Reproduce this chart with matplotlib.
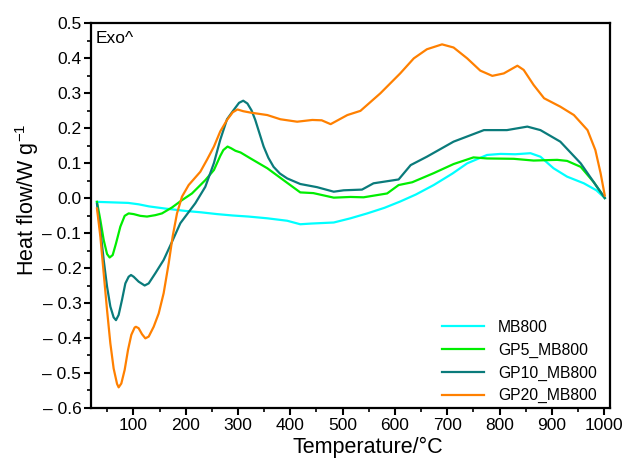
import matplotlib
matplotlib.use("Agg")
import matplotlib.pyplot as plt
from matplotlib.ticker import MultipleLocator, FuncFormatter

plt.rcParams['font.family'] = ['Liberation Sans', 'DejaVu Sans']
plt.rcParams['mathtext.fontset'] = 'custom'
plt.rcParams['mathtext.rm'] = 'Liberation Sans'
plt.rcParams['mathtext.it'] = 'Liberation Sans:italic'

# DSC curves (temperature in °C, heat flow in W/g)
t_mb800 = [30, 50, 70, 90, 110, 130, 160, 200, 230, 260, 290, 320, 356, 394, 419,
           440, 483, 515, 547, 580, 610, 640, 674, 710, 738, 776, 802, 830, 859,
           878, 903, 929, 961, 985, 1001]
hf_mb800 = [-0.011, -0.012, -0.013, -0.014, -0.018, -0.024, -0.03, -0.037, -0.041,
            -0.046, -0.05, -0.053, -0.058, -0.065, -0.075, -0.073, -0.07, -0.058,
            -0.044, -0.028, -0.01, 0.01, 0.037, 0.07, 0.099, 0.123, 0.126, 0.125,
            0.128, 0.118, 0.085, 0.061, 0.042, 0.022, 0.0]

t_gp5 = [30.5, 36.9, 43.3, 49.7, 54.7, 60.5, 66.8, 75.1, 83.4, 91, 100.6, 113.3,
         126.1, 142, 154.7, 173.9, 193, 212, 237.5, 254, 260, 266, 272, 280, 287,
         295, 305, 324, 356, 387, 419, 444, 483, 515, 540, 585, 607, 633, 674, 712,
         750, 776, 827, 865, 910, 929, 955, 980, 1001]
hf_gp5 = [-0.011, -0.063, -0.12, -0.16, -0.17, -0.163, -0.13, -0.082, -0.051,
          -0.044, -0.046, -0.051, -0.053, -0.049, -0.044, -0.027, -0.006, 0.013,
          0.051, 0.08, 0.1, 0.12, 0.137, 0.147, 0.142, 0.135, 0.13, 0.113, 0.085,
          0.051, 0.016, 0.014, 0.001, 0.003, 0.002, 0.013, 0.037, 0.045, 0.071,
          0.097, 0.116, 0.113, 0.112, 0.107, 0.109, 0.106, 0.089, 0.045, 0.0]

t_gp10 = [30.5, 36.9, 43.3, 49.7, 56, 62.3, 66.8, 71.9, 78.3, 84.7, 91, 95.5, 100.6,
          110.1, 121.6, 129.3, 142, 157.9, 173.9, 189.8, 199.3, 218.4, 237.5, 254,
          266, 279, 291, 302, 310, 318, 326, 333, 341, 349, 358, 368, 380, 394, 419,
          451, 483, 502, 537, 559, 607, 630, 661, 712, 770, 814, 853, 878, 916, 955,
          1001]
hf_gp10 = [-0.017, -0.091, -0.177, -0.253, -0.31, -0.341, -0.349, -0.334, -0.291,
           -0.244, -0.225, -0.22, -0.225, -0.239, -0.25, -0.244, -0.215, -0.177,
           -0.125, -0.072, -0.053, -0.015, 0.032, 0.1, 0.166, 0.225, 0.25, 0.272,
           0.278, 0.27, 0.25, 0.223, 0.185, 0.147, 0.115, 0.089, 0.07, 0.056, 0.04,
           0.031, 0.018, 0.022, 0.024, 0.042, 0.053, 0.094, 0.118, 0.161, 0.194,
           0.194, 0.204, 0.194, 0.161, 0.099, 0.0]

t_gp20 = [30.5, 36.9, 43.3, 49.7, 56, 62.3, 68.8, 71.9, 77, 83.4, 89.8, 96.1, 102.5,
          105, 110.1, 116.5, 122.9, 129.3, 138.8, 148.4, 157.9, 167.5, 175.1, 183.4,
          193, 205.7, 228, 241, 254, 266, 279, 290, 299, 310, 324, 356, 381, 413,
          442, 460, 477, 509, 534, 572, 610, 636, 661, 690, 712, 738, 763, 786, 808,
          834, 846, 865, 885, 916, 942, 968, 983, 993, 1001]
hf_gp20 = [-0.03, -0.11, -0.215, -0.32, -0.415, -0.487, -0.531, -0.541, -0.53,
           -0.491, -0.434, -0.391, -0.37, -0.368, -0.372, -0.389, -0.401, -0.396,
           -0.368, -0.33, -0.272, -0.187, -0.11, -0.044, 0.004, 0.037, 0.075, 0.11,
           0.147, 0.19, 0.223, 0.245, 0.253, 0.248, 0.244, 0.237, 0.225, 0.218,
           0.223, 0.222, 0.211, 0.237, 0.249, 0.299, 0.356, 0.399, 0.425, 0.439,
           0.43, 0.399, 0.364, 0.349, 0.356, 0.378, 0.366, 0.323, 0.285, 0.261,
           0.237, 0.194, 0.137, 0.071, 0.007]

fig = plt.figure(figsize=(6.27, 4.63), dpi=100)
ax = fig.add_axes([0.1451, 0.1188, 0.8278, 0.8315])

ax.plot(t_mb800, hf_mb800, color='#00FFFF', lw=1.6, label='MB800')
ax.plot(t_gp5, hf_gp5, color='#00EE00', lw=1.6, label='GP5_MB800')
ax.plot(t_gp10, hf_gp10, color='#0A7B7B', lw=1.6, label='GP10_MB800')
ax.plot(t_gp20, hf_gp20, color='#FF8000', lw=1.6, label='GP20_MB800')

ax.set_xlim(19, 1011)
ax.set_ylim(-0.6, 0.5)
ax.xaxis.set_major_locator(MultipleLocator(100))
ax.xaxis.set_minor_locator(MultipleLocator(50))
ax.yaxis.set_major_locator(MultipleLocator(0.1))
ax.yaxis.set_minor_locator(MultipleLocator(0.05))


def ylab(v, pos):
    if v < -1e-9:
        return '\u2013 %.1f' % abs(v)
    return '%.1f' % abs(v)


ax.yaxis.set_major_formatter(FuncFormatter(ylab))
ax.tick_params(which='major', direction='out', length=5, width=1.5, labelsize=12.5, pad=2)
ax.tick_params(which='minor', direction='out', length=3, width=1.2)
for s in ax.spines.values():
    s.set_linewidth(1.6)

ax.set_xlabel('Temperature/\u00b0C', fontsize=15.5, labelpad=3)
ax.set_ylabel('Heat flow/W g$^{\u22121}$', fontsize=15.5, labelpad=1)
# labels sit a bit off-centre in the original
ax.xaxis.label.set_x(0.534)
ax.yaxis.label.set_y(0.54)
ax.text(0.008, 0.978, 'Exo^', transform=ax.transAxes, fontsize=12.5, va='top', ha='left')

ax.legend(loc='lower right', frameon=False, fontsize=11.3, handlelength=2.7,
          handletextpad=0.9, labelspacing=0.5, bbox_to_anchor=(1.002, -0.025))

fig.savefig('out.png', dpi=100)
